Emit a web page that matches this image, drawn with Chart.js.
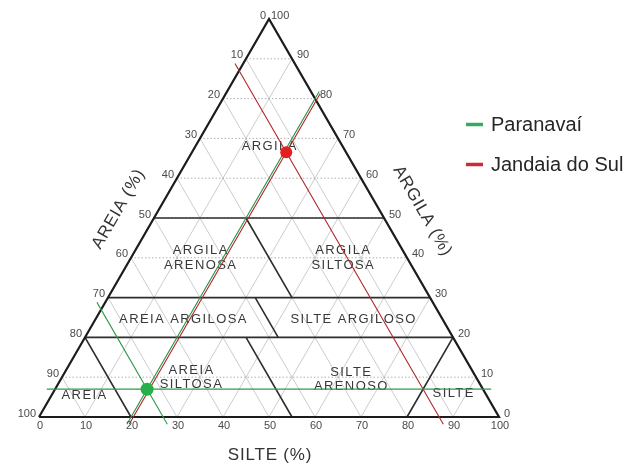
<!DOCTYPE html>
<html>
<head>
<meta charset="utf-8">
<script src="https://cdn.jsdelivr.net/npm/chart.js@4.4.1/dist/chart.umd.min.js"></script>
<style>
  html, body { margin: 0; padding: 0; background: #ffffff; }
  canvas { display: block; }
</style>
</head>
<body>
<canvas id="chart" width="630" height="469"></canvas>
<script>
// Soil samples (percent sand / silt / clay)
const siteNames = ['Paranavaí', 'Jandaia do Sul'];
const sandPct = [73, 13];
const siltPct = [20, 20.5];
const clayPct = [7, 66.5];
// constant-fraction guide lines traced through each sample
const guideLines = [['clay', 'sand', 'silt'], ['sand', 'silt']];

const tickValues = [0, 10, 20, 30, 40, 50, 60, 70, 80, 90, 100];
const gridValues = [10, 20, 30, 40, 50, 60, 70, 80, 90];
const axisTitles = ['SILTE (%)', 'AREIA (%)', 'ARGILA (%)'];

// Texture classes: text lines and centre given as [silt, clay]
const classNames = [
  ['ARGILA'],
  ['ARGILA', 'ARENOSA'],
  ['ARGILA', 'SILTOSA'],
  ['AREIA ARGILOSA'],
  ['SILTE ARGILOSO'],
  ['AREIA', 'SILTOSA'],
  ['SILTE', 'ARENOSO'],
  ['AREIA'],
  ['SILTE']
];
const classCentres = [
  [16, 68], [15, 40], [46, 40], [19, 24.5], [56, 24.5],
  [28, 10], [63, 9.5], [7, 5.5], [87, 6]
];

// Class boundaries, each a pair of [sand, silt, clay] end points
const classBoundaries = [
  [[50, 0, 50], [0, 50, 50]],
  [[70, 0, 30], [0, 70, 30]],
  [[80, 0, 20], [0, 80, 20]],
  [[30, 20, 50], [30, 40, 30]],
  [[38, 32, 30], [38, 42, 20]],
  [[80, 0, 20], [80, 20, 0]],
  [[45, 35, 20], [45, 55, 0]],
  [[0, 80, 20], [20, 80, 0]]
];

const H = Math.sqrt(3) / 2;
// ternary (silt, clay) -> cartesian; silt runs along the base, clay upwards
function tern(silt, clay) { return { x: silt + clay / 2, y: clay * H }; }
const GAP = { x: null, y: null };

function segmentsData(segs) {
  const out = [];
  segs.forEach((s, i) => {
    if (i) out.push(GAP);
    s.forEach(p => out.push(tern(p[0], p[1])));
  });
  return out;
}

// grid: [silt, clay] end points
const gridClay = gridValues.map(v => [[0, v], [100 - v, v]]);
const gridSand = gridValues.map(v => [[0, 100 - v], [100 - v, 0]]);
const gridSilt = gridValues.map(v => [[v, 0], [v, 100 - v]]);

const boundarySegs = classBoundaries.map(b => b.map(p => [p[1], p[2]]));

// guide lines through a sample, running edge to edge with a small overrun
const OVER = 1.8;
function guideSegs(i) {
  const sa = sandPct[i], si = siltPct[i], cl = clayPct[i];
  return guideLines[i].map(kind => {
    if (kind === 'clay') return [[-OVER, cl], [100 - cl + OVER, cl]];
    if (kind === 'sand') return [[-OVER, 100 - sa + OVER], [100 - sa + OVER, -OVER]];
    return [[si, -OVER], [si, 100 - si + OVER]];
  });
}

const lineColors = ['#2f9a4c', '#b0262b'];
const dotColors = ['#27b04a', '#e41f22'];
const legendColors = ['#3aa865', '#cc2b36'];

const lineDs = (label, data, color, width, dash) => ({
  label, data, type: 'scatter', showLine: true, spanGaps: false,
  borderColor: color, borderWidth: width, borderDash: dash || [],
  pointRadius: 0, fill: false, clip: false
});

const datasets = [
  { label: siteNames[0], data: [tern(siltPct[0], clayPct[0])], pointRadius: 6.5,
    backgroundColor: dotColors[0], borderColor: dotColors[0], borderWidth: 0, clip: false },
  { label: siteNames[1], data: [tern(siltPct[1], clayPct[1])], pointRadius: 6,
    backgroundColor: dotColors[1], borderColor: dotColors[1], borderWidth: 0, clip: false },
  lineDs(siteNames[0] + ' guide', segmentsData(guideSegs(0)), lineColors[0], 1.1),
  lineDs(siteNames[1] + ' guide', segmentsData(guideSegs(1)), lineColors[1], 1.1),
  lineDs('frame', [tern(0, 0), tern(100, 0), tern(0, 100), tern(0, 0)], '#1c1c1c', 2.2),
  lineDs('classes', segmentsData(boundarySegs), '#2e2e2e', 1.6),
  lineDs('grid clay', segmentsData(gridClay), '#a8a8a8', 0.9, [1.5, 2]),
  lineDs('grid sand silt', segmentsData(gridSand.concat(gridSilt)), '#bfbfbf', 0.8)
];
const FRAME_INDEX = 4;

function px(chart, silt, clay) {
  const p = tern(silt, clay);
  return { x: chart.scales.x.getPixelForValue(p.x), y: chart.scales.y.getPixelForValue(p.y) };
}

const FONT = '"Liberation Sans", Arial, sans-serif';

const ternaryText = {
  id: 'ternaryText',
  afterDatasetDraw(chart, args) {
    if (args.index !== FRAME_INDEX) return;
    const ctx = chart.ctx;
    ctx.save();
    ctx.font = '13px ' + FONT;
    ctx.letterSpacing = '1.4px';
    ctx.fillStyle = '#383838';
    ctx.textAlign = 'center';
    ctx.textBaseline = 'middle';
    classNames.forEach((lines, i) => {
      const c = px(chart, classCentres[i][0], classCentres[i][1]);
      const lh = 14.5;
      lines.forEach((t, k) => {
        ctx.fillText(t, c.x + 0.7, c.y + (k - (lines.length - 1) / 2) * lh);
      });
    });
    ctx.restore();
  },
  afterDraw(chart) {
    const ctx = chart.ctx;
    ctx.save();
    ctx.font = '11px ' + FONT;
    ctx.fillStyle = '#4a4a4a';
    ctx.textBaseline = 'middle';
    tickValues.forEach(v => {
      // silt along the base
      let p = px(chart, v, 0);
      ctx.textAlign = 'center';
      ctx.fillText(String(v), p.x + 1, p.y + 8.5);
      // sand on the left edge
      p = px(chart, 0, 100 - v);
      ctx.textAlign = 'right';
      ctx.fillText(String(v), p.x - 3, p.y - 3.5);
      // clay on the right edge
      p = px(chart, 100 - v, v);
      ctx.textAlign = 'left';
      ctx.fillText(String(v), p.x + (v === 100 ? 2 : 5), p.y - 3.5);
    });

    // axis titles
    ctx.font = '17px ' + FONT;
    ctx.letterSpacing = '0.8px';
    ctx.fillStyle = '#333333';
    ctx.textAlign = 'center';
    let p = px(chart, 50, 0);
    ctx.fillText(axisTitles[0], p.x + 1, p.y + 38);

    p = px(chart, 0, 52);
    ctx.save();
    ctx.translate(p.x - 40, p.y - 1);
    ctx.rotate(-Math.PI / 3);
    ctx.fillText(axisTitles[1], 0, 0);
    ctx.restore();

    p = px(chart, 48, 52);
    ctx.save();
    ctx.translate(p.x + 43, p.y + 1);
    ctx.rotate(Math.PI / 3);
    ctx.fillText(axisTitles[2], 0, 0);
    ctx.restore();

    // legend
    ctx.letterSpacing = '0px';
    ctx.font = '20px ' + FONT;
    ctx.textAlign = 'left';
    siteNames.forEach((name, i) => {
      const y = 124.5 + i * 40;
      ctx.strokeStyle = legendColors[i];
      ctx.lineWidth = 3.5;
      ctx.beginPath();
      ctx.moveTo(466, y);
      ctx.lineTo(483, y);
      ctx.stroke();
      ctx.fillStyle = '#262626';
      ctx.fillText(name, 491, y + 1);
    });
    ctx.restore();
  }
};

new Chart(document.getElementById('chart'), {
  type: 'scatter',
  data: { datasets },
  options: {
    responsive: false,
    animation: false,
    events: [],
    layout: { autoPadding: false, padding: { left: 39, right: 131, top: 19, bottom: 52 } },
    scales: {
      x: { type: 'linear', min: 0, max: 100, display: false },
      y: { type: 'linear', min: 0, max: 100 * H, display: false }
    },
    plugins: { legend: { display: false }, tooltip: { enabled: false } }
  },
  plugins: [ternaryText]
});
</script>
</body>
</html>
